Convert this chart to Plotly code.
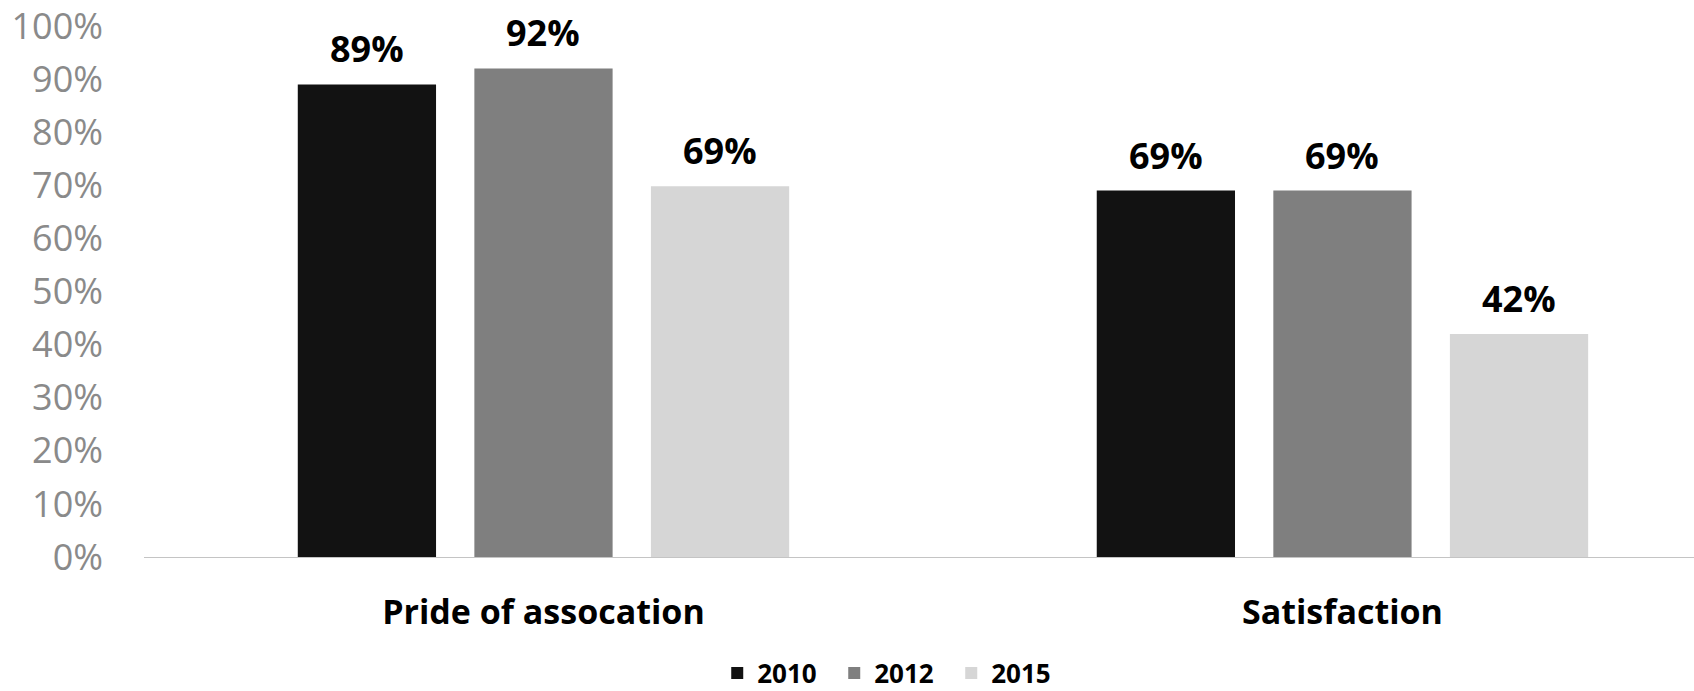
import plotly.graph_objects as go

categories = ["Pride of assocation", "Satisfaction"]
years = ["2010", "2012", "2015"]
values_2010 = [0.89, 0.69]
values_2012 = [0.92, 0.69]
values_2015 = [0.698, 0.42]
labels_2010 = ["89%", "69%"]
labels_2012 = ["92%", "69%"]
labels_2015 = ["69%", "42%"]
colors = ["#121212", "#7f7f7f", "#d6d6d6"]

series = [(values_2010, labels_2010), (values_2012, labels_2012), (values_2015, labels_2015)]

W, H = 1694, 691
ML, MR, MT, MB = 144, 0, 26, 134
XR = [-0.5, 1.44]
BARGAP = 0.337
px_per_unit = (W - ML - MR) / (XR[1] - XR[0])
slot_px = (1 - BARGAP) / len(series) * px_per_unit

fig = go.Figure()
for k, ((vals, labs), yr, col) in enumerate(zip(series, years, colors)):
    fig.add_trace(go.Bar(
        x=categories, y=vals, name=yr,
        marker=dict(color=col, line=dict(width=0)),
    ))
    for cat, v, lab in zip(categories, vals, labs):
        fig.add_annotation(
            x=cat, y=v, xref="x", yref="y", text=lab, showarrow=False,
            xanchor="center", yanchor="bottom",
            xshift=(k - 1) * slot_px, yshift=9,
            font=dict(family="Open Sans", size=36, color="#000000", weight="bold"),
        )

fig.update_layout(
    width=W, height=H,
    paper_bgcolor="white", plot_bgcolor="white",
    barmode="group", bargap=BARGAP, bargroupgap=0.217,
    margin=dict(l=ML, r=MR, t=MT, b=MB, autoexpand=False),
    showlegend=True,
    legend=dict(orientation="h", xref="container", x=0.527, xanchor="center",
                yref="container", y=0.026, yanchor="middle",
                font=dict(family="Open Sans", size=26, color="#000000", weight="bold"),
                itemwidth=30, traceorder="normal", entrywidth=72),
    xaxis=dict(range=XR, showgrid=False, showline=True, linecolor="#c4c4c4", linewidth=1,
               ticks="", ticklabelstandoff=25, automargin=False,
               tickfont=dict(family="Open Sans", size=34, color="#000000", weight="bold")),
    yaxis=dict(range=[0, 1.0], tickvals=[i / 10 for i in range(11)], tickformat=".0%",
               showgrid=False, zeroline=False, showline=False, ticks="", automargin=False,
               ticklabelstandoff=40,
               tickfont=dict(family="Open Sans", size=36, color="#8a8a8a")),
)

fig.write_html("out.html")
